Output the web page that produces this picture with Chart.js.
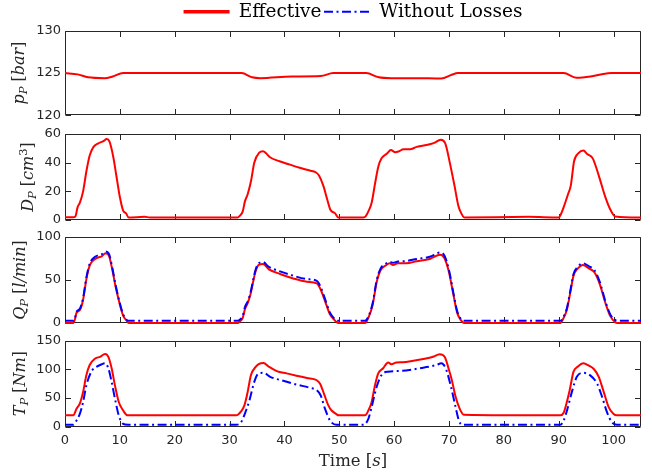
<!DOCTYPE html>
<html>
<head>
<meta charset="utf-8">
<script src="https://cdn.jsdelivr.net/npm/chart.js@4.4.1/dist/chart.umd.min.js"></script>
<style>
  html, body { margin: 0; padding: 0; background: #fff; }
  #wrap { position: relative; width: 652px; height: 474px; overflow: hidden; }
  #wrap canvas { position: absolute; left: 0; }
</style>
</head>
<body>
<div id="wrap">
  <canvas id="pChart" width="652" height="127" style="top:0px"></canvas>
  <canvas id="dChart" width="652" height="110" style="top:122px"></canvas>
  <canvas id="qChart" width="652" height="110" style="top:225px"></canvas>
  <canvas id="tChart" width="652" height="145" style="top:329px"></canvas>
</div>
<script>
// shared time axis
const timeTicks = [0, 10, 20, 30, 40, 50, 60, 70, 80, 90, 100];

// pump pressure [bar]
const pTicks = [120, 125, 130];
const pTime = [0, 2.3, 4.2, 7.2, 8.7, 10.6, 32.2, 34.1, 35.6, 41.3, 46.6, 48.9, 54.9, 57.2, 59.5, 64.0, 68.6, 70.5, 71.6, 90.9, 93.2, 95.8, 98.1, 99.6, 105];
const pEffective = [125, 124.85, 124.5, 124.4, 124.6, 125, 125, 124.5, 124.4, 124.6, 124.65, 125, 125, 124.5, 124.4, 124.4, 124.35, 124.8, 125, 125, 124.45, 124.6, 124.9, 125, 125];

// pump displacement [cm^3]
const dTicks = [0, 20, 40, 60];
const dTime = [0, 1.5, 1.9, 2.3, 2.7, 3.3, 3.9, 4.5, 5.2, 6.1, 7.0, 7.6, 8.1, 8.8, 9.4, 10.0, 10.6, 11.1, 11.6, 14.5,
  15.5, 31.5, 31.9, 32.4, 32.8, 33.3, 33.9, 34.5, 35.4, 36.1, 36.7, 37.3, 39.1, 41.0, 42.8, 44.6, 45.7, 46.3, 47.1, 47.8,
  48.4, 49.2, 49.8, 54.4, 54.8, 55.3, 55.9, 56.5, 57.1, 57.7, 58.7, 59.4, 60.2, 60.8, 61.7, 62.9, 64.1, 65.4, 67.2, 68.5,
  69.3, 70.2, 71.0, 71.7, 72.2, 72.8, 84.5, 90.0, 90.4, 91.0, 91.7, 92.2, 92.8, 93.6, 94.5, 95.2, 96.2, 97.3, 98.5, 99.5,
  100.3, 105];
const dEffective = [2, 2, 2.6, 9, 12, 20, 34, 45, 51, 53.5, 55, 56.5, 54.8, 44, 30, 16, 6.5, 4.8, 1.8, 2.2,
  1.8, 1.8, 3, 6, 13, 18, 27, 40, 47, 48, 46.4, 44, 41, 38.6, 36.4, 34.5, 33.3, 31, 23.8, 14.3,
  7, 4.8, 1.8, 1.8, 2.5, 6, 12, 25, 37, 43, 46.4, 48.8, 47.3, 47.8, 49.3, 49.3, 51, 52, 53.6, 56,
  53.6, 39, 24, 10, 5, 1.8, 2.2, 1.8, 4, 10, 18, 24, 41, 46.6, 48.5, 46, 43, 31, 16, 6.6,
  2.5, 1.8];

// pump flow [l/min]
const qTicks = [0, 50, 100];
const qTime = [0, 1.5, 1.8, 2.1, 2.7, 3.3, 3.9, 4.5, 5.5, 6.7, 7.4, 8.0, 8.6, 9.2, 10.0, 10.6, 11.2, 11.6, 31.5, 31.9,
  32.4, 32.8, 33.3, 33.8, 34.7, 35.3, 36.1, 37.1, 39.2, 41.6, 44.1, 45.9, 46.6, 47.4, 48.3, 49.2, 49.8, 54.7, 55.3, 56.1,
  56.8, 57.5, 58.6, 59.2, 59.8, 60.7, 62.2, 64.1, 66.5, 68.4, 69.2, 70.0, 70.8, 71.5, 72.2, 72.7, 90.3, 90.9, 91.5, 92.1,
  92.7, 93.5, 94.4, 95.5, 96.5, 97.5, 98.5, 99.4, 100.3, 100.7, 105];
const qEffective = [0, 0, 4, 12, 15, 27, 51, 66.7, 74.5, 77.6, 81, 78.4, 62.7, 43, 21.6, 8.6, 3, 0, 0, 2,
  6, 16, 23, 33, 59, 67.5, 68.6, 62.7, 57, 51.8, 48, 46, 39, 25.5, 10, 3, 0, 0, 6, 21.6,
  47, 61, 67.5, 69.4, 67.5, 69.4, 69.4, 71.8, 74.5, 79.5, 75, 59, 33, 11.8, 3, 0, 0, 6, 15.7, 35,
  55, 63.5, 67.5, 63.5, 59, 45, 23.5, 8, 1, 0, 0];
const qIdeal = [2.5, 2.5, 5, 13, 16.5, 29, 53, 69, 77, 80, 83, 80.5, 65, 45, 23, 10, 4, 2.5, 2.5, 4,
  8, 18.5, 25, 35, 61, 69.5, 70.8, 65.5, 60, 55, 51, 49, 42, 28, 12, 4.5, 2.5, 2.5, 7.5, 23.5,
  49, 63, 69.5, 71, 70, 71.5, 72, 74.5, 77, 82, 78, 61.5, 35, 13.5, 4.5, 2.5, 2.5, 7.5, 17.5, 37,
  57, 65.5, 69.5, 66, 61.5, 47.5, 25.5, 10, 3.5, 2.5, 2.5];

// pump torque [Nm]
const tTicks = [0, 50, 100, 150];
const tTime = [0, 1.5, 2.1, 2.7, 3.3, 3.9, 4.5, 5.5, 6.4, 7.3, 7.9, 8.5, 9.1, 9.8, 10.6, 11.4, 31.2, 32.1, 32.7, 33.3,
  33.9, 34.8, 35.3, 36.2, 37.1, 38.6, 40.4, 42.2, 44.1, 45.9, 46.5, 47.2, 48.0, 48.6, 49.4, 49.9, 54.7, 55.3, 55.9, 56.5,
  57.1, 58.0, 58.9, 59.5, 60.4, 61.6, 63.5, 65.3, 67.1, 68.3, 69.2, 70.0, 70.5, 71.2, 72.0, 72.7, 90.3, 90.9, 91.4, 92.0,
  92.7, 93.5, 94.5, 95.5, 96.4, 97.3, 98.2, 99.1, 100.0, 100.6, 105];
const tEffective = [19.5, 19.5, 31, 40, 60.6, 90, 107.6, 119, 122, 127, 122, 102, 72, 43, 28, 19.5, 19.5, 26.5, 37, 60.6,
  90, 104.7, 109, 111, 105, 97, 93, 89, 85, 81, 75, 57.6, 37, 28, 22, 19.5, 19.5, 28, 43, 72,
  93, 102, 112, 109, 112, 112.4, 115, 118, 122, 126.5, 122, 99, 82, 52, 30, 20.6, 19.5, 24, 40, 63.5,
  96, 105, 110.6, 106.5, 100.6, 87, 60.6, 34, 22, 19.5, 19.5];
const tIdealTime = [0, 1.5, 2.1, 2.7, 3.3, 3.9, 4.8, 5.8, 6.7, 7.3, 7.9, 8.5, 9.1, 9.8, 10.6, 11.5, 31.2, 32.1, 33.0, 33.6,
  34.5, 35.3, 36.2, 37.4, 39.8, 42.2, 44.7, 45.9, 46.6, 47.4, 48.3, 49.5, 54.4, 55.3, 55.9, 56.8, 57.7, 58.9, 60.4, 62.8,
  65.3, 67.7, 68.6, 69.4, 70.3, 71.2, 71.8, 72.4, 90.3, 90.9, 91.6, 92.4, 93.3, 94.5, 95.8, 97.0, 97.9, 98.8, 99.7, 100.6,
  105];
const tIdeal = [3, 3, 10.6, 22, 43, 72, 96, 104.7, 109, 110.6, 102, 78, 49, 19.4, 4.7, 3, 3, 7.6, 28, 45,
  78, 93, 94, 87, 80, 73.5, 67.6, 63.5, 54.7, 31, 10.6, 3, 3, 13.5, 34, 69, 90, 96, 97, 99,
  103, 107.6, 110.6, 101.8, 72, 34, 10.6, 3, 3, 10.6, 31, 60.6, 87, 94, 89, 75, 52, 25, 7.6, 3,
  3];

const RED = '#ff0000';
const BLUE = '#0000ff';
const INK = '#262626';
const DASH_DOT = [9, 3.5, 2, 3.5];
const TICK_FONT = { family: 'DejaVu Sans', size: 13 };
const SERIF = "'DejaVu Serif'";

function toPoints(xs, ys) {
  return xs.map((x, i) => ({ x: x, y: ys[i] }));
}

function series(label, xs, ys, color, dash, order) {
  return {
    label: label,
    data: toPoints(xs, ys),
    borderColor: color,
    backgroundColor: color,
    borderWidth: 2,
    borderDash: dash,
    pointRadius: 0,
    cubicInterpolationMode: 'monotone',
    clip: 3,
    order: order
  };
}

// box around the plot area with inward ticks
const axesBox = {
  id: 'axesBox',
  beforeDatasetsDraw(chart) {
    const { ctx, chartArea: a, scales } = chart;
    const l = Math.round(a.left) + 0.5, r = Math.round(a.right) - 0.5;
    const t = Math.round(a.top) + 0.5, b = Math.round(a.bottom) - 0.5;
    const len = 5.5;
    ctx.save();
    ctx.strokeStyle = INK;
    ctx.lineWidth = 1;
    ctx.beginPath();
    ctx.rect(l, t, r - l, b - t);
    timeTicks.forEach(v => {
      const px = Math.round(scales.x.getPixelForValue(v)) + 0.5;
      ctx.moveTo(px, b); ctx.lineTo(px, b - len);
      ctx.moveTo(px, t); ctx.lineTo(px, t + len);
    });
    scales.y.ticks.forEach(tk => {
      const py = Math.round(scales.y.getPixelForValue(tk.value)) + 0.5;
      ctx.moveTo(l, py); ctx.lineTo(l + len, py);
      ctx.moveTo(r, py); ctx.lineTo(r - len, py);
    });
    ctx.stroke();
    ctx.restore();
  }
};

// axis labels with italic symbols, subscripts and superscripts
function drawRuns(ctx, runs, size) {
  let w = 0;
  const parts = runs.map(r => {
    const s = (r.sub || r.sup) ? size * 0.72 : size;
    const font = (r.it ? 'italic ' : '') + s + 'px ' + SERIF;
    ctx.font = font;
    const p = { t: r.t, font: font, x: w, dy: r.sub ? size * 0.28 : (r.sup ? -size * 0.32 : 0) };
    w += ctx.measureText(r.t).width;
    return p;
  });
  parts.forEach(p => {
    ctx.font = p.font;
    ctx.fillText(p.t, p.x - w / 2, p.dy);
  });
}

function mathLabels(items) {
  return {
    id: 'mathLabels',
    afterDraw(chart) {
      const { ctx, chartArea: a } = chart;
      items.forEach(item => {
        const cx = item.x != null ? item.x : (a.left + a.right) / 2;
        const cy = item.y != null ? item.y : (a.top + a.bottom) / 2;
        ctx.save();
        ctx.fillStyle = INK;
        ctx.textAlign = 'left';
        ctx.textBaseline = 'middle';
        ctx.translate(cx, cy);
        if (item.vertical) ctx.rotate(-Math.PI / 2);
        drawRuns(ctx, item.runs, item.size);
        ctx.restore();
      });
    }
  };
}

function xAxis(withLabels) {
  return {
    type: 'linear',
    min: 0,
    max: 105,
    grid: { display: false, drawTicks: false },
    border: { display: false },
    ticks: { display: withLabels, padding: 6, color: INK, font: TICK_FONT, maxRotation: 0, autoSkip: false },
    afterBuildTicks: s => { s.ticks = timeTicks.map(v => ({ value: v })); },
    afterFit: s => { s.height = withLabels ? 47.5 : 0; }
  };
}

function yAxis(min, max, ticks) {
  return {
    type: 'linear',
    min: min,
    max: max,
    grid: { display: false, drawTicks: false },
    border: { display: false },
    ticks: { padding: 4, color: INK, font: TICK_FONT },
    afterBuildTicks: s => { s.ticks = ticks.map(v => ({ value: v })); },
    afterFit: s => { s.width = 65; }
  };
}

function baseOptions(x, y, padding) {
  return {
    responsive: false,
    animation: false,
    events: [],
    layout: { padding: padding },
    plugins: { legend: { display: false }, tooltip: { enabled: false } },
    scales: { x: x, y: y }
  };
}

// p_P panel, carries the legend for the whole figure
const pOptions = baseOptions(xAxis(false), yAxis(120, 130, pTicks), { left: 0, right: 11, top: 0, bottom: 10 });
pOptions.plugins.legend = {
  display: true,
  position: 'top',
  align: 'center',
  fullSize: false,
  labels: {
    color: '#000',
    font: { family: 'DejaVu Serif', size: 18.5 },
    usePointStyle: true,
    pointStyleWidth: 46,
    padding: 2.5,
    generateLabels: () => [
      { text: 'Effective', strokeStyle: RED, fillStyle: RED, lineWidth: 3.5, lineDash: [], pointStyle: 'line', hidden: false },
      { text: 'Without Losses', strokeStyle: BLUE, fillStyle: BLUE, lineWidth: 2, lineDash: DASH_DOT, pointStyle: 'line', hidden: false }
    ]
  }
};
new Chart(document.getElementById('pChart'), {
  type: 'line',
  data: { datasets: [series('Effective', pTime, pEffective, RED, [], 1)] },
  options: pOptions,
  plugins: [axesBox, mathLabels([
    { vertical: true, x: 20, size: 16, runs: [{ t: 'p', it: true }, { t: 'P', it: true, sub: true }, { t: ' [' }, { t: 'bar', it: true }, { t: ']' }] }
  ])]
});

// D_P panel
new Chart(document.getElementById('dChart'), {
  type: 'line',
  data: { datasets: [series('Effective', dTime, dEffective, RED, [], 1)] },
  options: baseOptions(xAxis(false), yAxis(0, 60, dTicks), { left: 0, right: 11, top: 12, bottom: 12 }),
  plugins: [axesBox, mathLabels([
    { vertical: true, x: 29, size: 16, runs: [{ t: 'D', it: true }, { t: 'P', it: true, sub: true }, { t: ' [' }, { t: 'cm', it: true }, { t: '3', sup: true }, { t: ']' }] }
  ])]
});

// Q_P panel
new Chart(document.getElementById('qChart'), {
  type: 'line',
  data: { datasets: [
    series('Effective', qTime, qEffective, RED, [], 1),
    series('Without Losses', qTime, qIdeal, BLUE, DASH_DOT, 0)
  ] },
  options: baseOptions(xAxis(false), yAxis(0, 100, qTicks), { left: 0, right: 11, top: 12, bottom: 12 }),
  plugins: [axesBox, mathLabels([
    { vertical: true, x: 21, size: 16, runs: [{ t: 'Q', it: true }, { t: 'P', it: true, sub: true }, { t: ' [' }, { t: 'l/min', it: true }, { t: ']' }] }
  ])]
});

// T_P panel with the time axis
new Chart(document.getElementById('tChart'), {
  type: 'line',
  data: { datasets: [
    series('Effective', tTime, tEffective, RED, [], 1),
    series('Without Losses', tIdealTime, tIdeal, BLUE, DASH_DOT, 0)
  ] },
  options: baseOptions(xAxis(true), yAxis(0, 150, tTicks), { left: 0, right: 11, top: 11.5, bottom: 0 }),
  plugins: [axesBox, mathLabels([
    { vertical: true, x: 21, size: 16, runs: [{ t: 'T', it: true }, { t: 'P', it: true, sub: true }, { t: ' [' }, { t: 'Nm', it: true }, { t: ']' }] },
    { vertical: false, y: 132.5, size: 16.5, runs: [{ t: 'Time ' }, { t: '[' }, { t: 's', it: true }, { t: ']' }] }
  ])]
});
</script>
</body>
</html>
